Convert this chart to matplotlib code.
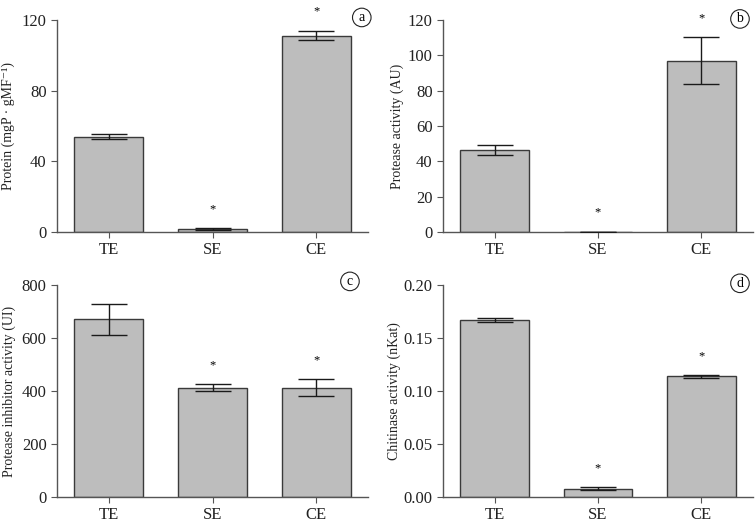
import numpy as np
import matplotlib
matplotlib.use("Agg")
import matplotlib.pyplot as plt

plt.rcParams["font.family"] = ["Liberation Serif", "DejaVu Serif"]

groups = ["TE", "SE", "CE"]

protein = [54, 1.5, 111]
protein_err = [1.2, 0.6, 2.5]
protein_star = [None, 13, 125]

protease = [46.5, 0, 97]
protease_err = [2.8, 0, 13.5]
protease_star = [None, 11, 121]

inhibitor = [670, 413, 413]
inhibitor_err = [60, 13, 32]
inhibitor_star = [None, 495, 515]

chitinase = [0.167, 0.008, 0.114]
chitinase_err = [0.002, 0.001, 0.0015]
chitinase_star = [None, 0.027, 0.133]

W, H = 756, 525


def px_axes(fig, left, right, top, bottom):
    return fig.add_axes([left / W, 1 - bottom / H, (right - left) / W, (bottom - top) / H])


def draw_panel(ax, values, errors, stars, ylim, yticks, ylabel, letter, label_x, letter_xy, fmt=None):
    x = np.arange(len(groups))
    ax.bar(x, values, width=0.667, color="#bdbdbd", edgecolor="#3a3a3a", linewidth=1.0, zorder=2)
    ax.errorbar(x, values, yerr=errors, fmt="none", ecolor="#1a1a1a",
                elinewidth=1.0, capsize=13, capthick=1.0, zorder=3)
    for xi, s in zip(x, stars):
        if s is not None:
            ax.text(xi, s, "*", ha="center", va="center", fontsize=9, clip_on=False)
    ax.set_xlim(-0.5, 2.5)
    ax.set_ylim(*ylim)
    ax.set_yticks(yticks)
    if fmt:
        ax.set_yticklabels([fmt.format(v) for v in yticks])
    ax.set_xticks(x)
    ax.set_xticklabels(groups)
    ax.set_ylabel(ylabel, fontsize=10, color="#222222")
    ax.yaxis.set_label_coords(label_x, 0.5)
    for side in ["top", "right"]:
        ax.spines[side].set_visible(False)
    for side in ["left", "bottom"]:
        ax.spines[side].set_color("#555555")
        ax.spines[side].set_linewidth(1.0)
    ax.tick_params(axis="both", direction="out", length=4, color="#555555",
                   labelsize=12, labelcolor="#222222")
    ax.text(letter_xy[0], letter_xy[1], letter, transform=ax.transAxes, ha="center", va="center",
            fontsize=10, bbox=dict(boxstyle="circle,pad=0.2", fc="white", ec="#222222", lw=0.8))


fig = plt.figure(figsize=(7.56, 5.25), dpi=100)

ax_a = px_axes(fig, 57, 368, 20, 232)
draw_panel(ax_a, protein, protein_err, protein_star, (0, 120), [0, 40, 80, 120],
           "Protein (mgP · gMF⁻¹)", "a", -0.135, (0.98, 1.012))

ax_b = px_axes(fig, 443, 753, 20, 232)
draw_panel(ax_b, protease, protease_err, protease_star, (0, 120), [0, 20, 40, 60, 80, 100, 120],
           "Protease activity (AU)", "b", -0.127, (0.958, 1.005))

ax_c = px_axes(fig, 57, 368, 285, 497)
draw_panel(ax_c, inhibitor, inhibitor_err, inhibitor_star, (0, 800), [0, 200, 400, 600, 800],
           "Protease inhibitor activity (UI)", "c", -0.133, (0.942, 1.017))

ax_d = px_axes(fig, 443, 753, 285, 497)
draw_panel(ax_d, chitinase, chitinase_err, chitinase_star, (0, 0.2), [0, 0.05, 0.10, 0.15, 0.20],
           "Chitinase activity (nKat)", "d", -0.137, (0.958, 1.008), fmt="{:.2f}")

fig.savefig("out.png", dpi=100)
